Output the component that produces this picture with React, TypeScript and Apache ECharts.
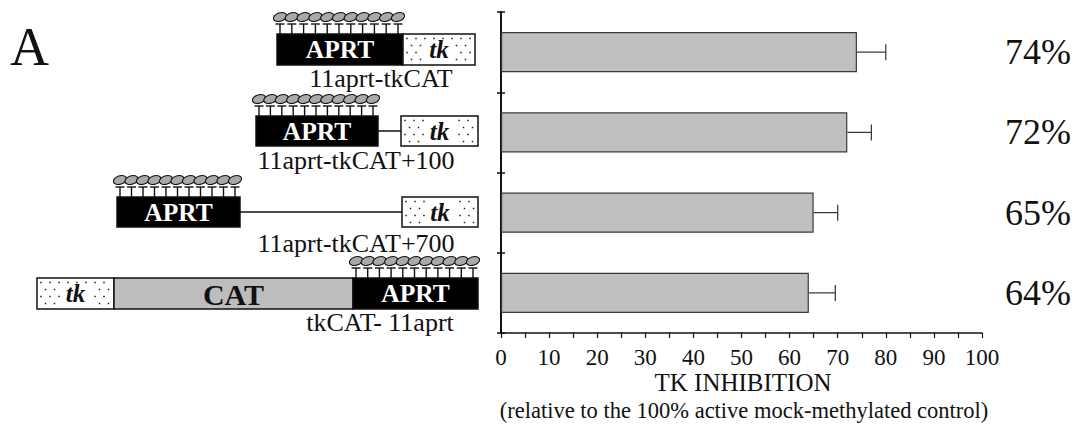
import React, { useEffect, useRef } from "react";
import * as echarts from "echarts";

// Constructs (top to bottom) and their TK inhibition with error
const constructs = ["11aprt-tkCAT", "11aprt-tkCAT+100", "11aprt-tkCAT+700", "tkCAT- 11aprt"];
const inhibition = [74, 72, 65, 64];
const errorBars = [6, 5, 5, 5.5];
const xMin = 0;
const xMax = 100;
const xStep = 10;

const SERIF = "'Liberation Serif', 'Times New Roman', serif";

type El = Record<string, unknown>;

function txt(text: string, x: number, y: number, size: number, opts: Record<string, unknown> = {}): El {
  const align = (opts.align as string) || "center";
  return {
    type: "text",
    x,
    y,
    z: 10,
    style: {
      text,
      font: `${opts.italic ? "italic " : ""}${opts.weight || "normal"} ${size}px ${SERIF}`,
      fontSize: size,
      fontFamily: SERIF,
      fontWeight: opts.weight || "normal",
      fontStyle: opts.italic ? "italic" : "normal",
      lineHeight: Math.round(size * 0.88),
      fill: (opts.fill as string) || "#111",
      align,
      verticalAlign: "middle",
      textAlign: align,
      textVerticalAlign: "middle",
    },
  };
}

function box(x1: number, x2: number, top: number, h: number, fill: string): El {
  return {
    type: "rect",
    shape: { x: x1, y: top, width: x2 - x1, height: h },
    style: { fill, stroke: "#111", lineWidth: 1.5 },
  };
}

// Dotted "tk" segment
function tkBox(x1: number, x2: number, top: number, h: number): El[] {
  const out: El[] = [box(x1, x2, top, h, "#ffffff")];
  const cx = (x1 + x2) / 2;
  const cy = top + h / 2;
  let r = 0;
  for (let y = top + 4.5; y < top + h - 2; y += 7, r++) {
    for (let x = x1 + 4 + (r % 2 ? 4.5 : 0); x < x2 - 2; x += 9) {
      if (Math.abs(x - cx) < 16 && Math.abs(y - cy) < 11) continue;
      out.push({
        type: "rect",
        shape: { x: x - 0.75, y: y - 0.75, width: 1.5, height: 1.5 },
        style: { fill: "#222" },
      });
    }
  }
  out.push(txt("tk", cx, cy, 25, { weight: "bold", italic: true }));
  return out;
}

// Black APRT segment with its row of 11 methylated-site lollipops
function aprtBox(x1: number, x2: number, top: number, h: number): El[] {
  const out: El[] = [box(x1, x2, top, h, "#000000")];
  const first = x1 + 3;
  const last = x2 - 5;
  const n = 11;
  for (let i = 0; i < n; i++) {
    const sx = first + ((last - first) * i) / (n - 1);
    const barY = top - 10;
    out.push({
      type: "line",
      shape: { x1: sx, y1: barY, x2: sx, y2: top },
      style: { stroke: "#111", lineWidth: 1.4 },
    });
    out.push({
      type: "line",
      shape: { x1: sx - 4.5, y1: barY, x2: sx + 4.5, y2: barY },
      style: { stroke: "#111", lineWidth: 1.4 },
    });
    out.push({
      type: "ellipse",
      x: sx,
      y: top - 17,
      rotation: 0.3,
      shape: { cx: 0, cy: 0, rx: 6.8, ry: 4.2 },
      style: { fill: "#a9a9a9", stroke: "#111", lineWidth: 1.1 },
    });
  }
  out.push(txt("APRT", (x1 + x2) / 2, top + h / 2, 25.5, { weight: "bold", fill: "#ffffff" }));
  return out;
}

function link(x1: number, x2: number, y: number): El {
  return { type: "line", shape: { x1, y1: y, x2, y2: y }, style: { stroke: "#111", lineWidth: 1.5 } };
}

function diagrams(): El[] {
  const els: El[] = [];
  // row 1
  els.push(...aprtBox(277, 403, 34, 31));
  els.push(...tkBox(403, 475, 34, 31));
  els.push(txt(constructs[0], 381, 78, 26));
  // row 2
  els.push(link(378, 401, 131));
  els.push(...aprtBox(256, 378, 116, 30));
  els.push(...tkBox(401, 478, 116, 30));
  els.push(txt(constructs[1], 356, 160, 26));
  // row 3
  els.push(link(240, 402, 212));
  els.push(...aprtBox(117, 240, 197, 30));
  els.push(...tkBox(402, 478, 197, 30));
  els.push(txt(constructs[2], 356, 243, 26));
  // row 4
  els.push(...tkBox(37, 114, 278, 31));
  els.push(box(114, 353, 278, 31, "#bdbdbd"));
  els.push(txt("CAT", 233.5, 294, 30, { weight: "bold" }));
  els.push(...aprtBox(353, 478, 278, 31));
  els.push(txt(constructs[3], 380, 322.5, 26));
  return els;
}

export default function App() {
  const ref = useRef<HTMLDivElement>(null);

  useEffect(() => {
    if (!ref.current) return;
    const chart = echarts.init(ref.current, undefined, { renderer: "svg" });

    const errData = inhibition.map((v, i) => [v, errorBars[i], i]);
    const pctData = inhibition.map((v, i) => [v, i]);

    chart.setOption({
      animation: false,
      backgroundColor: "#ffffff",
      grid: { left: 501, top: 12, width: 481, height: 321, containLabel: false },
      xAxis: {
        type: "value",
        min: xMin,
        max: xMax,
        interval: xStep,
        axisLine: { show: true, lineStyle: { color: "#111", width: 1.5 } },
        axisTick: { show: true, length: 5, lineStyle: { color: "#111", width: 1.2 } },
        minorTick: { show: true, splitNumber: 2, length: 5, lineStyle: { color: "#111", width: 1.2 } },
        splitLine: { show: false },
        axisLabel: { color: "#111", fontSize: 23, fontFamily: SERIF, margin: 13, lineHeight: 22 },
      },
      yAxis: [
        {
          type: "category",
          data: constructs,
          inverse: true,
          axisLine: { show: true, lineStyle: { color: "#111", width: 2 } },
          axisTick: { show: true, length: 4, inside: false, lineStyle: { color: "#111", width: 1.5 } },
          axisLabel: { show: false },
          splitLine: { show: false },
        },
        {
          type: "category",
          data: constructs,
          inverse: true,
          position: "left",
          axisLine: { show: false },
          axisTick: { show: true, length: 4, inside: true, lineStyle: { color: "#111", width: 1.5 } },
          axisLabel: { show: false },
          splitLine: { show: false },
        },
      ],
      series: [
        {
          type: "bar",
          data: inhibition,
          barWidth: "50%",
          itemStyle: { color: "#c0c0c0", borderColor: "#3a3a3a", borderWidth: 1.2 },
          silent: true,
        },
        {
          type: "custom",
          data: errData,
          encode: { x: 0, y: 2 },
          silent: true,
          renderItem: (_params: any, api: any) => {
            const v = api.value(0);
            const e = api.value(1);
            const idx = api.value(2);
            const p0 = api.coord([v, idx]);
            const p1 = api.coord([v + e, idx]);
            return {
              type: "group",
              children: [
                {
                  type: "line",
                  shape: { x1: p0[0], y1: p0[1], x2: p1[0], y2: p1[1] },
                  style: { stroke: "#333", lineWidth: 1.2 },
                },
                {
                  type: "line",
                  shape: { x1: p1[0], y1: p1[1] - 8, x2: p1[0], y2: p1[1] + 8 },
                  style: { stroke: "#333", lineWidth: 1.2 },
                },
              ],
            };
          },
        },
        {
          type: "custom",
          data: pctData,
          encode: { x: 0, y: 1 },
          silent: true,
          clip: false,
          renderItem: (params: any, api: any) => {
            const v = api.value(0);
            const idx = api.value(1);
            const cs = params.coordSys;
            const y = api.coord([v, idx])[1];
            return {
              type: "text",
              x: cs.x + cs.width + 23,
              y: y,
              style: {
                text: `${v}%`,
                font: `36px ${SERIF}`,
                fontSize: 36,
                fontFamily: SERIF,
                fill: "#111",
                align: "left",
                verticalAlign: "middle",
              },
            };
          },
        },
      ],
      graphic: [
        txt("A", 10, 47, 54, { align: "left" }),
        txt("TK INHIBITION", 743, 382, 25),
        txt("(relative to the 100% active mock-methylated control)", 744, 410, 22.5),
        ...diagrams(),
      ],
    });

    return () => chart.dispose();
  }, []);

  return (
    <div
      ref={ref}
      style={{ position: "fixed", left: 0, top: 0, width: 1076, height: 428, background: "#fff" }}
    />
  );
}
